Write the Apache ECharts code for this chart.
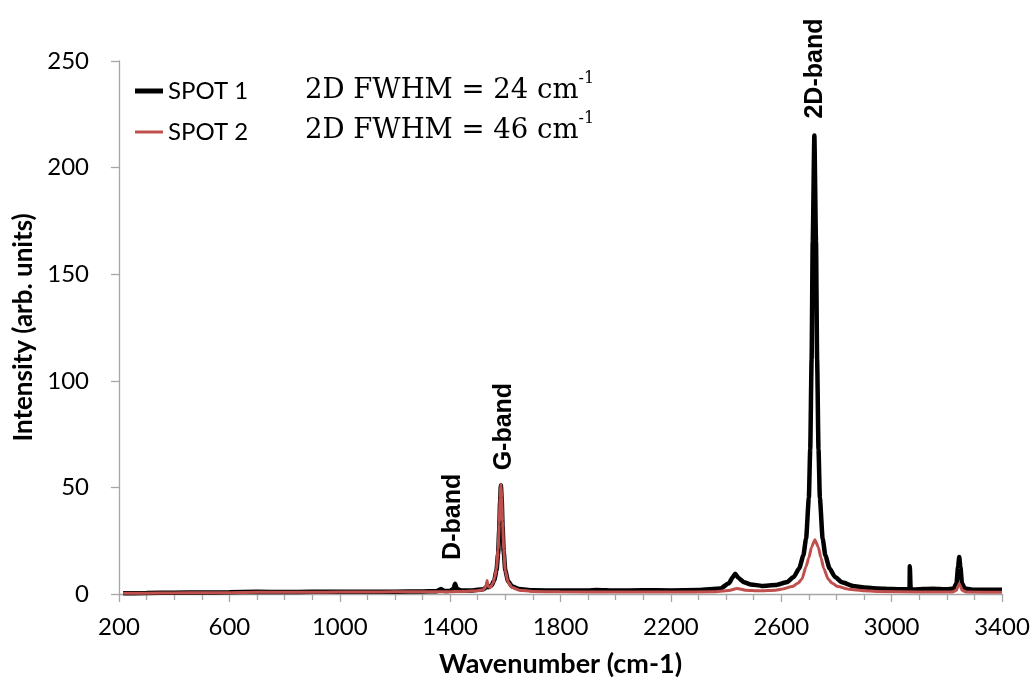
<!DOCTYPE html>
<html>
<head>
<meta charset="utf-8">
<script src="https://cdn.jsdelivr.net/npm/echarts@6/dist/echarts.min.js"></script>
<style>
  html, body { margin: 0; padding: 0; background: #fff; }
  #chart { width: 1035px; height: 684px; }
</style>
</head>
<body>
<div id="chart"></div>
<script>
// spot 1 (black) spectrum
const spot1Wave = [215, 300, 400, 500, 600, 700, 800, 900, 1000, 1100, 1200, 1300, 1350, 1367, 1380, 1400, 1412, 1418, 1424, 1440, 1480, 1520, 1530, 1534, 1540, 1550, 1560, 1568, 1574, 1578, 1581, 1584, 1587, 1590, 1594, 1600, 1610, 1625, 1650, 1700, 1800, 1900, 1930, 2000, 2100, 2200, 2300, 2380, 2410, 2425, 2433, 2445, 2465, 2490, 2530, 2580, 2620, 2645, 2665, 2680, 2690, 2700, 2705, 2710, 2714, 2720, 2726, 2730, 2735, 2740, 2750, 2760, 2775, 2795, 2820, 2860, 2900, 2950, 3000, 3050, 3065, 3066, 3068, 3069, 3080, 3150, 3200, 3225, 3235, 3241, 3245, 3249, 3255, 3265, 3300, 3400]
const spot1Int = [0.3, 0.5, 0.6, 0.7, 0.8, 1.0, 0.9, 1.0, 1.0, 1.1, 1.1, 1.2, 1.3, 2.4, 1.4, 1.5, 2.5, 4.8, 2.5, 1.6, 1.7, 2.2, 3.0, 4.0, 3.2, 4.0, 6.5, 11, 19, 30, 43, 51, 44, 32, 20, 11, 6, 3.5, 2.3, 1.8, 1.6, 1.6, 1.9, 1.6, 1.8, 1.7, 1.9, 2.6, 5, 8, 9.5, 7.5, 5.5, 4.5, 3.8, 4.2, 5.5, 8, 12, 18, 26, 45, 68, 110, 165, 215, 165, 110, 68, 45, 26, 18, 12, 8, 5.5, 3.8, 3.0, 2.6, 2.3, 2.2, 2.3, 13, 13, 2.3, 2.1, 2.5, 2.2, 2.6, 5, 13, 17.3, 13, 5, 2.6, 2.0, 2.0]

// spot 2 (red) spectrum
const spot2Wave = [215, 300, 400, 500, 600, 700, 800, 900, 1000, 1100, 1200, 1300, 1400, 1450, 1500, 1520, 1530, 1534, 1538, 1545, 1555, 1562, 1568, 1574, 1578, 1581, 1584, 1587, 1590, 1594, 1600, 1610, 1625, 1650, 1700, 1800, 2000, 2200, 2350, 2410, 2440, 2470, 2520, 2580, 2600, 2640, 2660, 2675, 2690, 2700, 2710, 2722, 2734, 2744, 2754, 2770, 2785, 2805, 2845, 2900, 2950, 3100, 3220, 3235, 3241, 3245, 3249, 3255, 3270, 3400]
const spot2Int = [0.3, 0.4, 0.5, 0.6, 0.6, 0.8, 0.8, 0.8, 0.9, 0.9, 1.0, 1.0, 1.1, 1.2, 1.5, 2.0, 3.5, 6.3, 3.5, 3.0, 5, 8, 12, 21, 33, 45, 51.5, 45, 34, 21, 11, 5.5, 3, 1.8, 1.2, 1.0, 0.9, 0.9, 1.0, 1.6, 2.6, 1.8, 1.5, 1.8, 2.2, 3.5, 5, 7, 13, 17, 22, 25.5, 22, 17, 12, 7, 5, 3.5, 2.2, 1.5, 1.2, 0.9, 0.9, 1.8, 3.8, 4.8, 3.8, 1.8, 0.9, 0.8]

// band labels (start of the rotated text, in data units)
const bandNames = ['D-band', 'G-band', '2D-band']
const bandWave = [1410, 1595, 2722]
const bandInt = [16, 58, 223]

const seriesNames = ['SPOT 1', 'SPOT 2']
const fwhmText = ['2D FWHM = 24 cm', '2D FWHM = 46 cm']

const zip = (xs, ys) => xs.map((x, i) => [x, ys[i]])

const axisGrey = '#a6a6a6'
// legend line icons: tiny corner dots keep the box 28x14 so the bar keeps its thickness
const lineIcon = (y, h) => 'path://M0,0h0.01v0.01h-0.01z M0,' + y + 'h28v' + h + 'h-28z M27.99,13.99h0.01v0.01h-0.01z'

const fwhmGraphics = fwhmText.map((t, i) => ({
  type: 'text',
  left: 305,
  top: 71 + i * 40,
  style: {
    text: '{a|' + t + '}{b|-1}',
    rich: {
      a: { fontFamily: 'DejaVu Serif', fontSize: 27.5, lineHeight: 40, fill: '#000' },
      b: { fontFamily: 'DejaVu Serif', fontSize: 16, verticalAlign: 'top', fill: '#000' }
    }
  }
}))

const chart = echarts.init(document.getElementById('chart'))
chart.setOption({
  animation: false,
  backgroundColor: '#fff',
  grid: {
    left: 119,
    right: 33,
    top: 61,
    bottom: 90
  },
  legend: {
    orient: 'vertical',
    left: 135,
    top: 79,
    padding: 0,
    itemGap: 17,
    itemWidth: 28,
    itemHeight: 14,
    data: [
      { name: seriesNames[0], icon: lineIcon(4.5, 5) },
      { name: seriesNames[1], icon: lineIcon(5.5, 3) }
    ],
    textStyle: {
      fontFamily: 'Lato',
      fontSize: 24,
      lineHeight: 24,
      color: '#000'
    }
  },
  graphic: fwhmGraphics,
  xAxis: {
    type: 'value',
    min: 200,
    max: 3400,
    interval: 400,
    name: 'Wavenumber (cm-1)',
    nameLocation: 'middle',
    nameGap: 57,
    nameTextStyle: {
      fontFamily: 'Lato',
      fontWeight: 'bold',
      fontSize: 27,
      color: '#000'
    },
    axisLine: { lineStyle: { color: axisGrey, width: 1.3 } },
    axisTick: { length: 8, lineStyle: { color: axisGrey, width: 1.3 } },
    minorTick: { show: true, splitNumber: 4, length: 6, lineStyle: { color: axisGrey, width: 1.3 } },
    splitLine: { show: false },
    axisLabel: {
      margin: 21,
      fontFamily: 'Lato',
      fontSize: 24,
      color: '#000',
      formatter: v => String(v)
    }
  },
  yAxis: {
    type: 'value',
    min: 0,
    max: 250,
    interval: 50,
    name: 'Intensity (arb. units)',
    nameLocation: 'middle',
    nameGap: 82,
    nameTextStyle: {
      fontFamily: 'Lato',
      fontWeight: 'bold',
      fontSize: 26,
      color: '#000'
    },
    axisLine: { show: true, lineStyle: { color: axisGrey, width: 1.3 } },
    axisTick: { show: true, length: 8, lineStyle: { color: axisGrey, width: 1.3 } },
    splitLine: { show: false },
    axisLabel: {
      margin: 30,
      fontFamily: 'Lato',
      fontSize: 24,
      color: '#000'
    }
  },
  series: [
    {
      name: seriesNames[0],
      type: 'line',
      symbol: 'none',
      smooth: 0.2,
      smoothMonotone: 'x',
      color: '#000',
      lineStyle: { color: '#000', width: 4.5 },
      data: zip(spot1Wave, spot1Int),
      z: 2
    },
    {
      name: seriesNames[1],
      type: 'line',
      symbol: 'none',
      smooth: 0.2,
      smoothMonotone: 'x',
      color: '#c0504d',
      lineStyle: { color: '#c0504d', width: 3 },
      data: zip(spot2Wave, spot2Int),
      z: 3
    }
  ]
})

// band names, placed through the axes, reading bottom to top
const bandGraphics = bandNames.map((n, i) => {
  const p = chart.convertToPixel({ gridIndex: 0 }, [bandWave[i], bandInt[i]])
  return {
    type: 'text',
    x: p[0],
    y: p[1],
    rotation: Math.PI / 2,
    z: 10,
    style: {
      text: n,
      align: 'left',
      verticalAlign: 'middle',
      fontFamily: 'Liberation Sans',
      fontWeight: 'bold',
      fontSize: 25,
      fill: '#000'
    }
  }
})
chart.setOption({ graphic: fwhmGraphics.concat(bandGraphics) })
</script>
</body>
</html>
